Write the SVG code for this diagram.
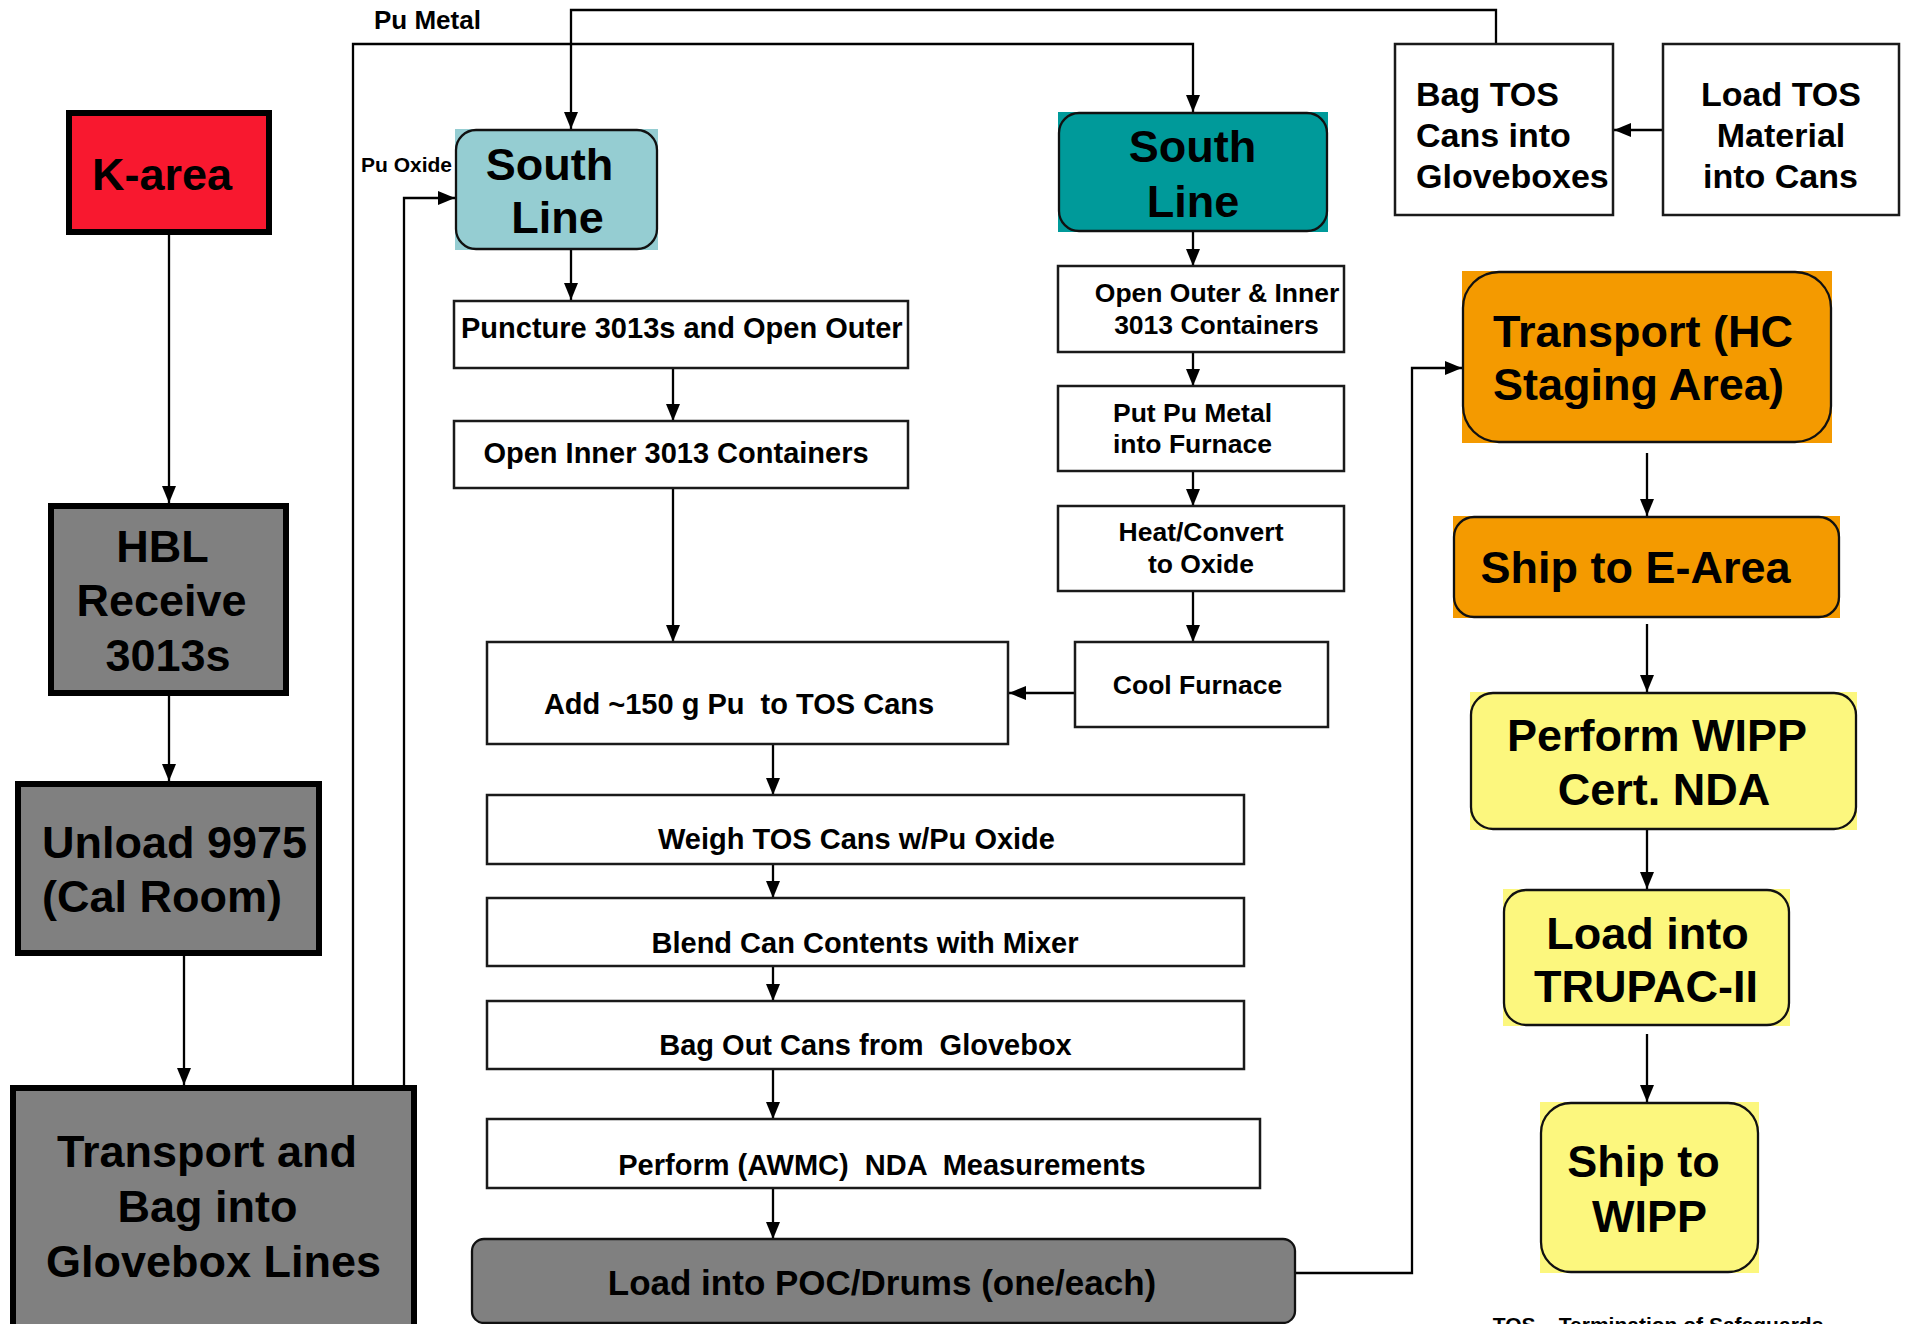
<svg xmlns="http://www.w3.org/2000/svg" width="1905" height="1324" viewBox="0 0 1905 1324">
<style>
text{font-family:"Liberation Sans",Arial,Helvetica,sans-serif;font-weight:bold;fill:#000}
.big{font-size:45px}
.mid{font-size:29px}
.sm{font-size:26.5px}
.tos{font-size:34px}
.thick{stroke:#000;stroke-width:6;fill:#808080}
.box{fill:#fff;stroke:#1a1a1a;stroke-width:2.5}
.rnd{fill:none;stroke:#111;stroke-width:2.3}
.c{text-anchor:middle}
.ln{fill:none;stroke:#000;stroke-width:2.3}
</style>
<defs>
<marker id="ah" markerUnits="userSpaceOnUse" markerWidth="17" markerHeight="14" refX="17" refY="7" orient="auto">
<path d="M0,0 L17,7 L0,14 z" fill="#000"/>
</marker>
</defs>
<rect width="1905" height="1324" fill="#fff"/>

<g id="connectors">
<path class="ln" d="M169,235 V503" marker-end="url(#ah)"/>
<path class="ln" d="M169,696 V781" marker-end="url(#ah)"/>
<path class="ln" d="M184,948 V1085" marker-end="url(#ah)"/>
<path class="ln" d="M353,1085 V44 H1193 V112" marker-end="url(#ah)"/>
<path class="ln" d="M404,1085 V198 H455" marker-end="url(#ah)"/>
<path class="ln" d="M1496,44 V10 H571 V129" marker-end="url(#ah)"/>
<path class="ln" d="M1663,130 H1614" marker-end="url(#ah)"/>
<path class="ln" d="M571,250 V300" marker-end="url(#ah)"/>
<path class="ln" d="M673,369 V421" marker-end="url(#ah)"/>
<path class="ln" d="M673,488 V642" marker-end="url(#ah)"/>
<path class="ln" d="M1193,232 V266" marker-end="url(#ah)"/>
<path class="ln" d="M1193,352 V386" marker-end="url(#ah)"/>
<path class="ln" d="M1193,471 V506" marker-end="url(#ah)"/>
<path class="ln" d="M1193,591 V642" marker-end="url(#ah)"/>
<path class="ln" d="M1075,693 H1009" marker-end="url(#ah)"/>
<path class="ln" d="M773,744 V795" marker-end="url(#ah)"/>
<path class="ln" d="M773,864 V898" marker-end="url(#ah)"/>
<path class="ln" d="M773,966 V1001" marker-end="url(#ah)"/>
<path class="ln" d="M773,1069 V1119" marker-end="url(#ah)"/>
<path class="ln" d="M773,1188 V1239" marker-end="url(#ah)"/>
<path class="ln" d="M1295,1273 H1412 V368 H1462" marker-end="url(#ah)"/>
<path class="ln" d="M1647,453 V516" marker-end="url(#ah)"/>
<path class="ln" d="M1647,624 V692" marker-end="url(#ah)"/>
<path class="ln" d="M1647,830 V889" marker-end="url(#ah)"/>
<path class="ln" d="M1647,1034 V1102" marker-end="url(#ah)"/>
</g>

<g id="labels">
<text x="374" y="29" style="font-size:26px">Pu Metal</text>
<text x="361" y="172" style="font-size:21px">Pu Oxide</text>
</g>

<g id="k-area">
<rect x="69" y="113" width="200" height="119" fill="#F8182F" stroke="#000" stroke-width="6"/>
<text class="big c" x="162" y="190">K-area</text>
</g>

<g id="hbl">
<rect class="thick" x="51" y="506" width="235" height="187"/>
<text class="big c" x="162.5" y="562">HBL</text>
<text class="big c" x="161.5" y="616">Receive</text>
<text class="big c" x="168" y="671">3013s</text>
</g>

<g id="unload">
<rect class="thick" x="18" y="784" width="301" height="169"/>
<text class="big" x="42" y="858">Unload 9975</text>
<text class="big" x="42" y="912">(Cal Room)</text>
</g>

<g id="transport-bag">
<rect class="thick" x="13" y="1088" width="401" height="250"/>
<text class="big c" x="207" y="1167">Transport and</text>
<text class="big c" x="207.5" y="1222">Bag into</text>
<text class="big c" x="213.5" y="1277">Glovebox Lines</text>
</g>

<g id="south-line-1">
<rect x="455" y="129" width="203" height="121" fill="#95CDD2"/>
<rect class="rnd" x="456" y="130" width="201" height="119" rx="20" ry="20"/>
<text class="big c" x="549.5" y="180">South</text>
<text class="big c" x="557.5" y="233">Line</text>
</g>

<g id="puncture">
<rect class="box" x="454" y="301" width="454" height="67"/>
<text class="mid" x="461" y="338">Puncture 3013s and Open Outer</text>
</g>

<g id="open-inner">
<rect class="box" x="454" y="421" width="454" height="67"/>
<text class="mid c" x="676" y="463">Open Inner 3013 Containers</text>
</g>

<g id="add">
<rect class="box" x="487" y="642" width="521" height="102"/>
<text class="mid c" x="739" y="714" xml:space="preserve">Add ~150 g Pu  to TOS Cans</text>
</g>

<g id="weigh">
<rect class="box" x="487" y="795" width="757" height="69"/>
<text class="mid c" x="856.5" y="849">Weigh TOS Cans w/Pu Oxide</text>
</g>

<g id="blend">
<rect class="box" x="487" y="898" width="757" height="68"/>
<text class="mid c" x="865" y="953">Blend Can Contents with Mixer</text>
</g>

<g id="bag-out">
<rect class="box" x="487" y="1001" width="757" height="68"/>
<text class="mid c" x="865.5" y="1055" xml:space="preserve">Bag Out Cans from  Glovebox</text>
</g>

<g id="perform-awmc">
<rect class="box" x="487" y="1119" width="773" height="69"/>
<text class="mid c" x="882" y="1175" xml:space="preserve">Perform (AWMC)  NDA  Measurements</text>
</g>

<g id="load-poc">
<rect x="472" y="1239" width="823" height="84" rx="12" ry="12" fill="#808080" stroke="#111" stroke-width="2.3"/>
<text class="c" x="882" y="1295" style="font-size:35px">Load into POC/Drums (one/each)</text>
</g>

<g id="south-line-2">
<rect x="1058" y="112" width="270" height="120" fill="#009A9A"/>
<rect class="rnd" x="1059" y="113" width="268" height="118" rx="20" ry="20"/>
<text class="big c" x="1192.5" y="162">South</text>
<text class="big c" x="1193" y="217">Line</text>
</g>

<g id="open-outer">
<rect class="box" x="1058" y="266" width="286" height="86"/>
<text class="sm c" x="1217" y="302">Open Outer &amp; Inner</text>
<text class="sm c" x="1216.5" y="334">3013 Containers</text>
</g>

<g id="put-pu">
<rect class="box" x="1058" y="386" width="286" height="85"/>
<text class="sm c" x="1192.5" y="422">Put Pu Metal</text>
<text class="sm c" x="1192.5" y="453">into Furnace</text>
</g>

<g id="heat">
<rect class="box" x="1058" y="506" width="286" height="85"/>
<text class="sm c" x="1201" y="541">Heat/Convert</text>
<text class="sm c" x="1201" y="573">to Oxide</text>
</g>

<g id="cool">
<rect class="box" x="1075" y="642" width="253" height="85"/>
<text class="sm c" x="1197.5" y="694">Cool Furnace</text>
</g>

<g id="bag-tos">
<rect class="box" x="1395" y="44" width="218" height="171"/>
<text class="tos" x="1416" y="106">Bag TOS</text>
<text class="tos" x="1416" y="147">Cans into</text>
<text class="tos" x="1416" y="188">Gloveboxes</text>
</g>

<g id="load-tos">
<rect class="box" x="1663" y="44" width="236" height="171"/>
<text class="tos c" x="1781" y="106">Load TOS</text>
<text class="tos c" x="1781" y="147">Material</text>
<text class="tos c" x="1780.5" y="188">into Cans</text>
</g>

<g id="transport-hc">
<rect x="1462" y="271" width="370" height="172" fill="#F49A00"/>
<rect class="rnd" x="1463" y="272" width="368" height="170" rx="36" ry="36"/>
<text class="big" x="1493" y="347">Transport (HC</text>
<text class="big" x="1493" y="400">Staging Area)</text>
</g>

<g id="ship-e-area">
<rect x="1453" y="516" width="387" height="102" fill="#F49A00"/>
<rect class="rnd" x="1454" y="517" width="385" height="100" rx="20" ry="20"/>
<text class="big c" x="1635.5" y="583">Ship to E-Area</text>
</g>

<g id="perform-wipp">
<rect x="1470" y="692" width="387" height="138" fill="#FCF77E"/>
<rect class="rnd" x="1471" y="693" width="385" height="136" rx="22" ry="22"/>
<text class="big c" x="1657" y="751">Perform WIPP</text>
<text class="big c" x="1664" y="805">Cert. NDA</text>
</g>

<g id="load-trupac">
<rect x="1503" y="889" width="287" height="137" fill="#FCF77E"/>
<rect class="rnd" x="1504" y="890" width="285" height="135" rx="22" ry="22"/>
<text class="big c" x="1647.5" y="949">Load into</text>
<text class="big c" x="1646" y="1002">TRUPAC-II</text>
</g>

<g id="ship-wipp">
<rect x="1540" y="1102" width="219" height="171" fill="#FCF77E"/>
<rect class="rnd" x="1541" y="1103" width="217" height="169" rx="30" ry="30"/>
<text class="big c" x="1643.5" y="1177">Ship to</text>
<text class="big c" x="1649.5" y="1232">WIPP</text>
</g>

<g id="note">
<text class="c" x="1658" y="1332" style="font-size:21px">TOS – Termination of Safeguards</text>
</g>
</svg>
